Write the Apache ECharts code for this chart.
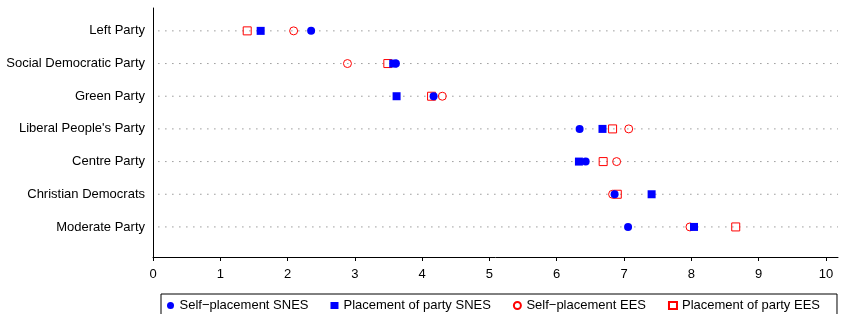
<!DOCTYPE html>
<html>
<head>
<meta charset="utf-8">
<script src="https://cdn.jsdelivr.net/npm/echarts@6/dist/echarts.min.js"></script>
<style>
  html, body { margin: 0; padding: 0; background: #fff; }
  #chart { width: 841px; height: 314px; }
</style>
</head>
<body>
<div id="chart"></div>
<script>
// parties, top to bottom
const parties = ['Left Party', 'Social Democratic Party', 'Green Party', "Liberal People's Party",
  'Centre Party', 'Christian Democrats', 'Moderate Party']
const selfSNES = [2.35, 3.61, 4.17, 6.34, 6.43, 6.86, 7.06]
const partySNES = [1.60, 3.57, 3.62, 6.68, 6.33, 7.41, 8.04]
const selfEES = [2.09, 2.89, 4.30, 7.07, 6.89, 6.83, 7.98]
const partyEES = [1.40, 3.49, 4.14, 6.83, 6.69, 6.90, 8.66]
const xTicks = [0, 1, 2, 3, 4, 5, 6, 7, 8, 9, 10]
const legendNames = ['Self\u2212placement SNES', 'Placement of party SNES', 'Self\u2212placement EES', 'Placement of party EES']

const X_MIN = 0, X_MAX = 10.18
const n = parties.length
// row position on the y value axis (top row = n)
const rowY = i => n - i
const rows = parties.map((p, i) => rowY(i))

const font = 'Liberation Sans, Arial, Helvetica, sans-serif'

const chart = echarts.init(document.getElementById('chart'), null, { renderer: 'canvas' })

// dotted guide line for each party
let guideSeries = rows.map(y => ({
  type: 'line',
  silent: true,
  symbol: 'none',
  z: 1,
  lineStyle: { color: '#666', width: 1, type: [1, 6] },
  data: [[0.08, y], [X_MAX, y]]
}))

function pointSeries(name, values, symbol, style, z) {
  return {
    name: name,
    type: 'scatter',
    symbol: symbol,
    symbolSize: 8,
    z: z,
    itemStyle: Object.assign({ opacity: 1 }, style),
    data: values.map((v, i) => [v, rowY(i)])
  }
}

chart.setOption({
  animation: false,
  grid: { left: 153, right: 3, top: 8, bottom: 57 },
  xAxis: {
    type: 'value',
    min: X_MIN,
    max: X_MAX,
    axisLine: { show: true, lineStyle: { color: '#000', width: 1 } },
    axisTick: { show: true, length: 4, customValues: xTicks, lineStyle: { color: '#000' } },
    axisLabel: { customValues: xTicks, color: '#000', fontSize: 13, fontFamily: font, margin: 11 },
    splitLine: { show: false }
  },
  yAxis: {
    type: 'value',
    min: 0.08,
    max: 7.7,
    axisLine: { show: true, onZero: false, lineStyle: { color: '#000', width: 1 } },
    axisTick: { show: false },
    axisLabel: {
      customValues: rows,
      color: '#000', fontSize: 13, fontFamily: font, margin: 8,
      formatter: v => parties[n - Math.round(v)]
    },
    splitLine: { show: false }
  },
  legend: {
    data: legendNames,
    left: 161,
    top: 294,
    width: 670,
    orient: 'horizontal',
    borderColor: '#000',
    borderWidth: 1,
    padding: [5, 17, 10, 6],
    itemWidth: 8,
    itemHeight: 7,
    itemGap: 22,
    textStyle: { color: '#000', fontSize: 13, fontFamily: font }
  },
  series: guideSeries.concat([
    pointSeries(legendNames[0], selfSNES, 'circle', { color: '#0000ff' }, 5),
    pointSeries(legendNames[1], partySNES, 'rect', { color: '#0000ff' }, 4),
    pointSeries(legendNames[2], selfEES, 'circle', { color: 'rgba(255,255,255,0)', borderColor: '#ff0000', borderWidth: 1 }, 3),
    pointSeries(legendNames[3], partyEES, 'rect', { color: 'rgba(255,255,255,0)', borderColor: '#ff0000', borderWidth: 1 }, 2)
  ])
})
</script>
</body>
</html>
